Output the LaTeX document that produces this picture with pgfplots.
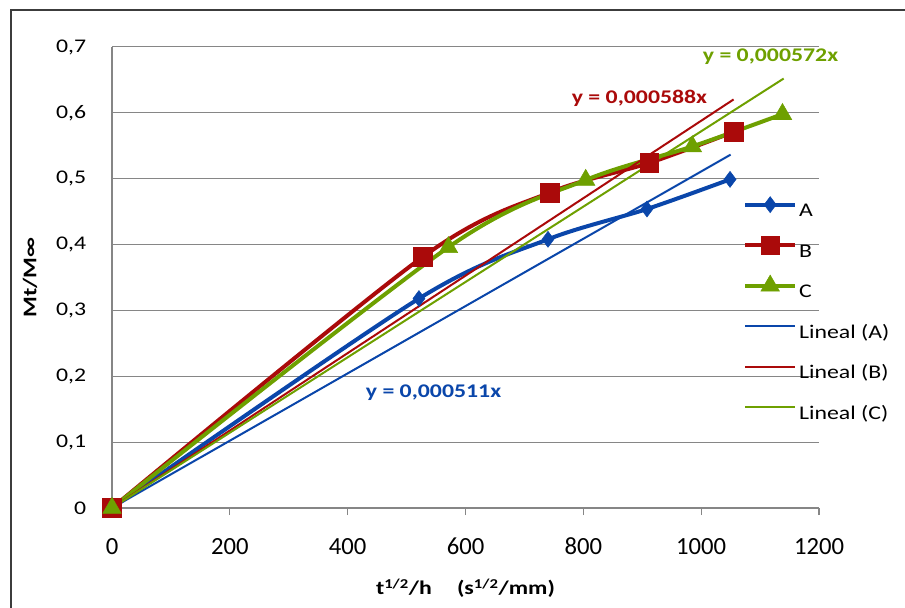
\documentclass[border=0pt]{standalone}
\usepackage{pgfplots}
\pgfplotsset{compat=1.18}
\usepackage{fontspec}
\setmainfont{Carlito}[FakeStretch=1.23]
\newfontfamily\xtf{Carlito}
\definecolor{cA}{RGB}{10,70,170}
\definecolor{cB}{RGB}{170,10,10}
\definecolor{cC}{RGB}{110,160,0}
\definecolor{gridc}{RGB}{134,134,134}
\newcommand\cf{\fontsize{14.5}{17}\selectfont}
\begin{document}
\begin{tikzpicture}
\begin{axis}[
  at={(84pt,74.25pt)}, anchor=south west,
  scale only axis, width=530.25pt, height=345.75pt,
  xmin=0, xmax=1200, ymin=0, ymax=0.7,
  clip=false,
  axis x line*=bottom, axis y line*=left,
  axis line style={gridc, line width=1.1pt, -},
  xtick={0,200,400,600,800,1000,1200},
  xticklabels={0,200,400,600,800,1000,1200},
  ytick={0,0.1,0.2,0.3,0.4,0.5,0.6,0.7},
  yticklabels={0,{0,1},{0,2},{0,3},{0,4},{0,5},{0,6},{0,7}},
  ymajorgrids, grid style={gridc, line width=0.75pt},
  tick align=outside, major tick length=5.25pt,
  xtick style={gridc, line width=0.9pt},
  ytick style={draw=none},
  tick label style={font=\cf, text=black},
  xticklabel style={anchor=base, inner sep=0pt, font=\xtf\fontsize{18.5}{22}\selectfont},
  xticklabel shift=29.5pt,
  yticklabel style={anchor=east, inner sep=0pt},
  yticklabel shift=14pt,
  xlabel={\textbf{t\textsuperscript{1/2}/h\hspace{1.3em}(s\textsuperscript{1/2}/mm)}},
  xlabel style={at={(axis description cs:0.5,-0.1887)}, anchor=base, font=\cf, inner sep=0pt},
  ylabel={\textbf{Mt/M∞}},
  ylabel style={at={(axis description cs:-0.116,0.5)}, anchor=center, font=\cf, inner sep=0pt},
  legend style={at={(axis description cs:0.8952,0.6716)}, anchor=north west,
    draw=none, fill=none, inner sep=0pt, row sep=12.9pt, column sep=3pt,
    font=\cf, nodes={inner sep=0pt, text height=13pt, text depth=4pt}},
  legend cell align=left,
  legend image code/.code={%
    \begin{pgfinterruptboundingbox}
    \draw[mark repeat=2,mark phase=2,#1] plot coordinates {(0pt,4.5pt) (18.75pt,4.5pt) (37.5pt,4.5pt)};
    \end{pgfinterruptboundingbox}
    \path[draw=none,fill=none] (0pt,0pt) rectangle (37.5pt,9pt);},
]
\addplot[cA, line width=3pt, smooth, mark=diamond*, mark size=6pt, mark options={solid, line width=0.4pt}] coordinates {
  (0,0) (521,0.318) (740,0.408) (908,0.454) (1049,0.499)};
\addlegendentry{A}
\addplot[cB, line width=3pt, smooth, mark=square*, mark size=7pt, mark options={solid, line width=0.4pt}] coordinates {
  (0,0) (527,0.381) (743,0.479) (912,0.524) (1055,0.571)};
\addlegendentry{B}
\addplot[cC, line width=3pt, smooth, mark=triangle*, mark size=8pt, mark options={solid, line width=0.4pt}] coordinates {
  (0,0) (571,0.396) (804,0.498) (985,0.549) (1138,0.598)};
\addlegendentry{C}
\addplot[cA, line width=1.5pt] coordinates {(0,0) (1050,0.53655)};
\addlegendentry{Lineal (A)}
\addplot[cB, line width=1.5pt] coordinates {(0,0) (1055,0.62034)};
\addlegendentry{Lineal (B)}
\addplot[cC, line width=1.5pt] coordinates {(0,0) (1140,0.65208)};
\addlegendentry{Lineal (C)}
\node[text=cC, font=\cf\bfseries] at (axis cs:1117.7,0.6853) {y = 0,000572x};
\node[text=cB, font=\cf\bfseries] at (axis cs:895.3,0.6226) {y = 0,000588x};
\node[text=cA, font=\cf\bfseries] at (axis cs:545.7,0.1754) {y = 0,000511x};
\end{axis}
\draw[line width=1.1pt, color={rgb,255:red,60;green,60;blue,60}] (8.25pt,-20pt) rectangle (700pt,447.75pt);
\pgfresetboundingbox
\useasboundingbox (0,0) rectangle (678.75pt,455.25pt);
\end{tikzpicture}
\end{document}
